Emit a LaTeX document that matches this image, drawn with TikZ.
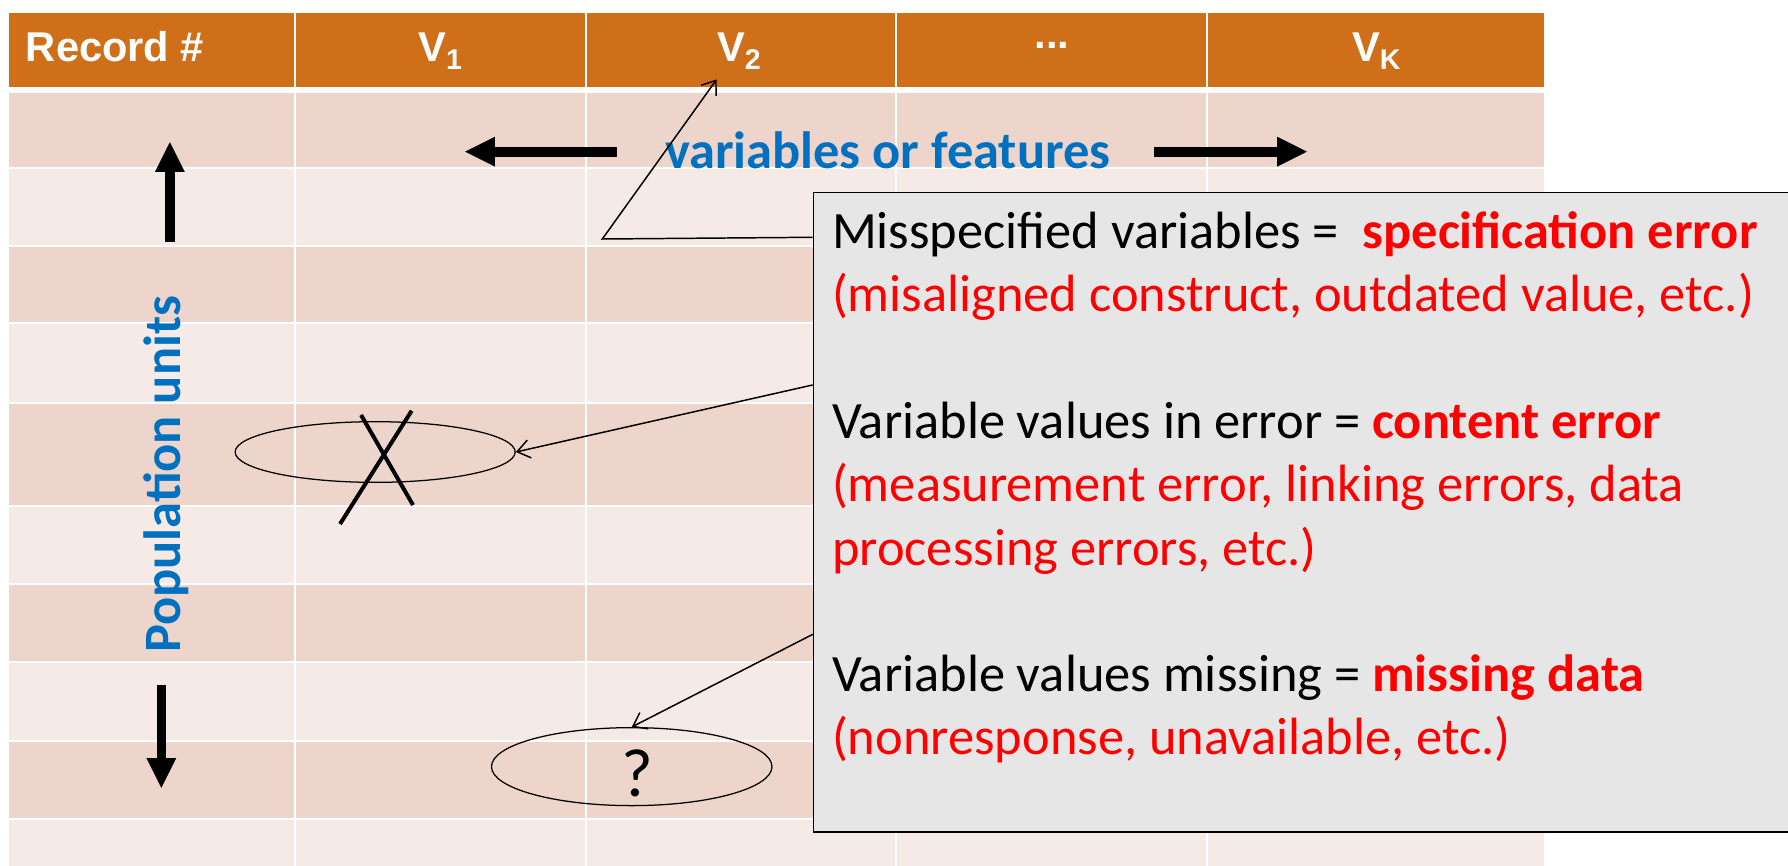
\documentclass[tikz,border=0pt]{standalone}
\usepackage{fontspec}
\setmainfont{Carlito}
\newfontfamily\hdrfont{Liberation Sans}
\usetikzlibrary{arrows.meta,shapes.geometric}
\definecolor{hdrorange}{RGB}{208,111,26}
\definecolor{darkrow}{RGB}{237,213,204}
\definecolor{lightrow}{RGB}{245,234,230}
\definecolor{boxgray}{RGB}{230,230,230}
\definecolor{txtblue}{RGB}{0,112,192}
\definecolor{txtred}{RGB}{255,0,0}
\tikzset{
  hdrtext/.style={text=white, inner sep=0pt, anchor=base, font=\hdrfont\bfseries\fontsize{36.5}{40}\selectfont},
  boxline/.style={inner sep=0pt, anchor=base west, font=\fontsize{46}{55}\selectfont},
  thinarrow/.style={draw=black, line width=1.3pt, -{Straight Barb[length=11pt,width=16pt]}},
  blockarrow/.style={draw=black, line width=8.5pt, -{Triangle[length=26pt,width=26pt,line width=0.1pt]}},
  ringnode/.style={draw=black, line width=1.1pt, ellipse, inner sep=0pt},
  gridline/.style={white, line width=1.8pt},
  crossline/.style={black, line width=3.5pt}
}
\begin{document}
\begin{tikzpicture}[x=1pt,y=-1pt]
\useasboundingbox (0,0) rectangle (1568,759);
\clip (0,0) rectangle (1568,759);
\fill[white] (0,0) rectangle (1568,759);
% header band
\fill[hdrorange] (8,11.7) rectangle (1354,76);
% data rows
\foreach \ya/\yb/\cc in {81.8/147.6/darkrow, 147.6/215.6/lightrow, 215.6/283.6/darkrow, 283.6/353/lightrow, 353/443.8/darkrow, 443.8/512/lightrow, 512/580.5/darkrow, 580.5/650/lightrow, 650/718.2/darkrow, 718.2/760/lightrow}
  \fill[\cc] (8,\ya) rectangle (1354,\yb);
\foreach \yy in {147.6,215.6,283.6,353,443.8,512,580.5,650,718.2}
  \draw[gridline] (8,\yy) -- (1354,\yy);
\foreach \xx in {258.5,514,786,1058.5}
  \draw[gridline] (\xx,11.7) -- (\xx,760);
% header texts
\node[hdrtext, anchor=base west] (hrec) at (22.6,54) {Record \#};
\node[hdrtext] (hv1) at (386,54) {V\raisebox{-0.2em}{\fontsize{25}{25}\selectfont 1}};
\node[hdrtext] (hv2) at (648,54) {V\raisebox{-0.2em}{\fontsize{25}{25}\selectfont 2}};
\node[hdrtext] (hdots) at (922.5,42.5) {...};
\node[hdrtext] (hvk) at (1207,54) {V\raisebox{-0.2em}{\fontsize{25}{25}\selectfont K}};
% labels
\node[inner sep=0pt, anchor=base west, text=txtblue, font=\bfseries\fontsize{46}{46}\selectfont] (vars) at (583,147.6) {variables or features};
\node[inner sep=0pt, anchor=base, rotate=90, text=txtblue, font=\bfseries\fontsize{46}{46}\selectfont] (pop) at (158.5,416) {Population units};
% block arrows
\coordinate (la0) at (541,133); \coordinate (la1) at (408,133);
\coordinate (ra0) at (1012,133); \coordinate (ra1) at (1146,133);
\coordinate (ua0) at (149,212); \coordinate (ua1) at (149,124.8);
\coordinate (da0) at (141.5,601); \coordinate (da1) at (141.5,690.8);
\draw[blockarrow] (la0) -- (la1);
\draw[blockarrow] (ra0) -- (ra1);
\draw[blockarrow] (ua0) -- (ua1);
\draw[blockarrow] (da0) -- (da1);
% ellipses
\node[ringnode, minimum width=245.6pt, minimum height=53.2pt] (e1) at (329,396.4) {};
\node[ringnode, minimum width=246pt, minimum height=68.4pt] (e2) at (554,672.3) {};
\coordinate (x1a) at (316.6,363.9); \coordinate (x1b) at (362.2,442.9);
\coordinate (x2a) at (361,360.2); \coordinate (x2b) at (298.2,459.5);
\draw[crossline] (x1a) -- (x1b);
\draw[crossline] (x2a) -- (x2b);
\node[inner sep=0pt, anchor=base, font=\fontsize{60}{60}\selectfont] (q) at (558.6,698.6) {?};
% text box
\node[draw=black, line width=1.5pt, fill=boxgray, anchor=north west, minimum width=900pt, minimum height=560.8pt, inner sep=0pt] (box) at (712.7,168) {};
\node[boxline] (l1) at (729.5,218) {Misspecified variables = \ \textcolor{txtred}{\bfseries specification error}};
\node[boxline, text=txtred] (l2) at (729.5,273.5) {(misaligned construct, outdated value, etc.)};
\node[boxline] (l3) at (729.5,384.5) {Variable values in error = \textcolor{txtred}{\bfseries content error}};
\node[boxline, text=txtred] (l4) at (729.5,440) {(measurement error, linking errors, data};
\node[boxline, text=txtred] (l5) at (729.5,495.5) {processing errors, etc.)};
\node[boxline] (l6) at (729.5,606.5) {Variable values missing = \textcolor{txtred}{\bfseries missing data}};
\node[boxline, text=txtred] (l7) at (729.5,662) {(nonresponse, unavailable, etc.)};
% thin arrows
\coordinate (a1s) at (box.west |- 0,208.1);
\coordinate (a1c) at (528.2,209.6);
\coordinate (a1t) at (628.5,69.6);
\draw[thinarrow] (a1s) -- (a1c) -- (a1t);
\coordinate (a2s) at (box.west |- 0,337.6);
\draw[thinarrow] (a2s) -- (e1.east);
\coordinate (a3s) at (box.west |- 0,556.3);
\draw[thinarrow] (a3s) -- (e2.north);
\end{tikzpicture}
\end{document}
